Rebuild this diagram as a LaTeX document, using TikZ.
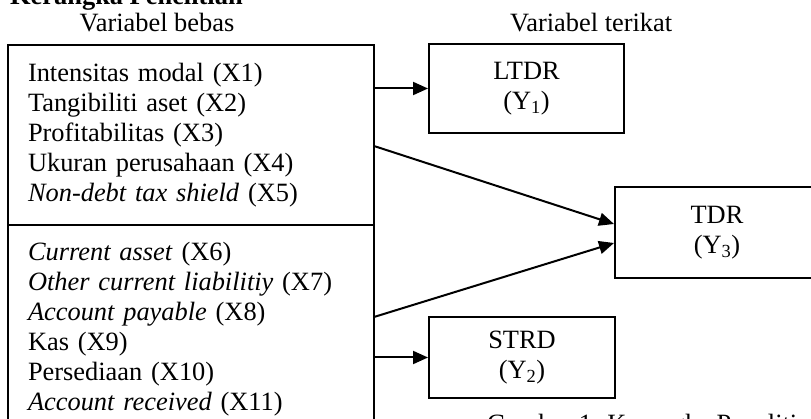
\documentclass[tikz,border=0pt]{standalone}
\usepackage{fontspec}
\setmainfont{Liberation Serif}
\usepackage{tikz}
\usetikzlibrary{positioning, arrows.meta, calc}

\begin{document}
\begin{tikzpicture}[
  x=1pt, y=-1pt,
  font=\fontsize{26.4}{30}\selectfont,
  varbox/.style={draw, line width=2pt, outer sep=0pt, minimum width=366.5pt,
    inner xsep=20.5pt, inner ysep=0pt, text width=325.5pt, align=left},
  ybox/.style={draw, line width=2pt, inner sep=0pt, align=center},
  ket/.style={inner sep=0pt},
  arrow/.style={-{Triangle[length=15pt, width=13pt]}, line width=2pt},
]
  \useasboundingbox (0,0) rectangle (811,419);
  \clip (0,0) rectangle (811,419);

  % Headings
  \node[ket, anchor=base west] (judul) at (10,5) {\bfseries Kerangka Penelitian};
  \node[ket, anchor=base] (lbebas) at (157,32) {Variabel bebas};
  \node[ket, anchor=base west] (lterikat) at (510,32) {Variabel terikat};

  % Independent variables (left)
  \node[varbox, minimum height=180pt] (bebas1) at (190.75,135)
    {Intensitas modal (X1)\\ Tangibiliti aset (X2)\\ Profitabilitas (X3)\\
     Ukuran perusahaan (X4)\\ \textit{Non-debt tax shield} (X5)};
  \node[varbox, minimum height=208pt, below=0pt of bebas1] (bebas2)
    {\textit{Current asset} (X6)\\ \textit{Other current liabilitiy} (X7)\\
     \textit{Account payable} (X8)\\ Kas (X9)\\ Persediaan (X10)\\
     \textit{Account received} (X11)};

  % Dependent variables (right)
  \node[ybox, minimum width=195pt, minimum height=89pt] (ltdr) at (526.5,88.5)
    {LTDR\\(Y\textsubscript{1})};
  \node[ybox, minimum width=204pt, minimum height=91pt] (tdr) at (717,232.5)
    {TDR\\(Y\textsubscript{3})};
  \node[ybox, minimum width=186pt, minimum height=81pt] (strd) at (522,357.5)
    {STRD\\(Y\textsubscript{2})};

  % Effects
  \draw[arrow] (bebas1.east |- ltdr.west) -- (ltdr.west);
  \draw[arrow] ($(bebas1.east)+(0,11)$) -- ($(tdr.west)+(0,-8.5)$);
  \draw[arrow] ($(bebas2.east)+(0,-12)$) -- ($(tdr.west)+(0,10.5)$);
  \draw[arrow] (bebas2.east |- strd.west) -- (strd.west);

  \node[ket, anchor=base west] (gambar) at (487,432.5) {Gambar 1. Kerangka Penelitian};
\end{tikzpicture}
\end{document}
